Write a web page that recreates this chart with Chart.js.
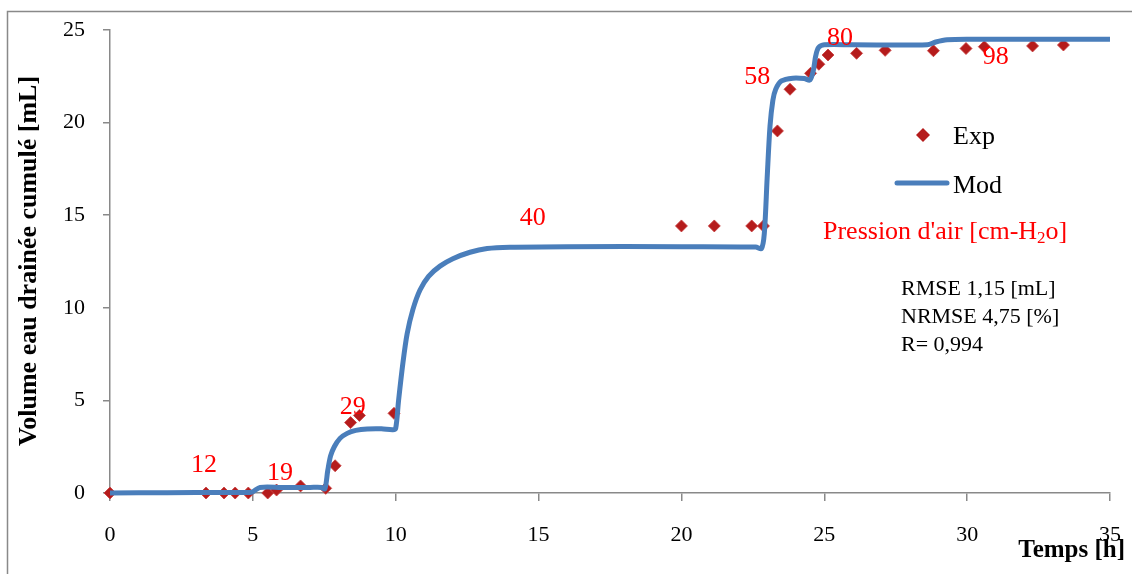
<!DOCTYPE html>
<html>
<head>
<meta charset="utf-8">
<script src="https://cdn.jsdelivr.net/npm/chart.js@4"></script>
<style>
  html, body { margin: 0; padding: 0; background: #fff; }
  #wrap { width: 1132px; height: 574px; position: relative; }
</style>
</head>
<body>
<div id="wrap"><canvas id="myChart" width="1132" height="574"></canvas></div>
<script>
// Temps [h] / volume [mL] des points mesurés
const expTime = [0, 3.36, 3.99, 4.38, 4.84, 5.52, 5.83, 6.67, 7.55, 7.88, 8.42, 8.73, 9.94,
    20.0, 21.15, 22.46, 22.87, 23.36, 23.8, 24.52, 24.81, 25.13, 26.13, 27.13, 28.82, 29.96, 30.6, 32.29, 33.37];
const expVolume = [0, 0, 0, 0, 0, 0, 0.16, 0.38, 0.25, 1.47, 3.8, 4.19, 4.3,
    14.42, 14.42, 14.42, 14.42, 19.55, 21.8, 22.66, 23.15, 23.65, 23.74, 23.9, 23.88, 24.0, 24.1, 24.14, 24.19];

// courbe du modèle
const modTime = [0, 2, 4, 4.95, 5.25, 6, 7, 7.4, 7.52, 7.62, 7.72, 7.85, 8.05, 8.3, 8.6, 9, 9.5, 9.9, 10,
    10.1, 10.25, 10.4, 10.6, 10.85, 11.15, 11.55, 12, 12.6, 13.2, 14, 16, 20, 22.6, 22.8, 22.9, 23.0,
    23.1, 23.2, 23.3, 23.5, 23.9, 24.3, 24.5, 24.62, 24.7, 24.8, 25, 26, 28.6, 28.9, 29.3, 30, 35];
const modVolume = [0, 0.02, 0.03, 0.04, 0.3, 0.3, 0.3, 0.3, 0.22, 1.2, 2.0, 2.5, 2.95, 3.22, 3.38, 3.46, 3.47, 3.42, 3.5,
    5, 7, 8.6, 9.9, 10.96, 11.7, 12.25, 12.65, 13.0, 13.2, 13.27, 13.3, 13.3, 13.28, 13.2, 14, 17,
    19.8, 21.2, 21.8, 22.25, 22.4, 22.38, 22.3, 22.85, 23.6, 24.05, 24.2, 24.2, 24.2, 24.35, 24.47, 24.5, 24.5];

// pressions d'air [cm-H2o] et leur emplacement (temps, volume)
const pressureLabels = ["12", "19", "29", "40", "58", "80", "98"];
const pressureAt = [[3.29, 1.51], [5.95, 1.08], [8.5, 4.64], [14.8, 14.85], [22.65, 22.46], [25.55, 24.57], [31.0, 23.54]];

const statsLines = ["RMSE 1,15 [mL]", "NRMSE 4,75 [%]", "R= 0,994"];

const serif = "'Liberation Serif', 'Times New Roman', serif";
const axisGrey = "#898989";
const modColor = "#4a7ebb";
const expColor = "#b51c1c";

const annotations = {
    id: "annotations",
    beforeDraw(chart) {
        const c = chart.ctx;
        c.save();
        c.fillStyle = "#fff";
        c.fillRect(0, 0, chart.width, chart.height);
        c.strokeStyle = axisGrey;
        c.lineWidth = 1.5;
        c.strokeRect(7.5, 11.5, 1140, 600);
        c.restore();
    },
    afterDraw(chart) {
        const c = chart.ctx;
        const xs = chart.scales.x;
        const ys = chart.scales.y;
        c.save();
        c.textAlign = "center";
        c.textBaseline = "middle";

        // étiquettes de pression
        c.fillStyle = "#ff0000";
        c.font = "26px " + serif;
        pressureLabels.forEach((t, i) => {
            c.fillText(t, xs.getPixelForValue(pressureAt[i][0]), ys.getPixelForValue(pressureAt[i][1]));
        });

        // titres des axes
        c.fillStyle = "#000";
        c.font = "bold 26px " + serif;
        c.save();
        c.translate(29, 261);
        c.rotate(-Math.PI / 2);
        c.fillText("Volume eau drainée cumulé [mL]", 0, 0);
        c.restore();
        c.textAlign = "right";
        c.font = "bold 25px " + serif;
        c.fillText("Temps [h]", 1125, 551);

        // légende
        c.textAlign = "left";
        c.font = "26px " + serif;
        c.fillStyle = expColor;
        c.beginPath();
        c.moveTo(923, 128);
        c.lineTo(930, 135);
        c.lineTo(923, 142);
        c.lineTo(916, 135);
        c.closePath();
        c.fill();
        c.fillStyle = "#000";
        c.fillText("Exp", 953, 137);
        c.strokeStyle = modColor;
        c.lineWidth = 5;
        c.lineCap = "round";
        c.beginPath();
        c.moveTo(897, 183);
        c.lineTo(947, 183);
        c.stroke();
        c.fillText("Mod", 953, 186);

        c.fillStyle = "#ff0000";
        const p1 = "Pression d'air [cm-H";
        c.fillText(p1, 823, 232);
        let w = c.measureText(p1).width;
        c.font = "17px " + serif;
        c.fillText("2", 823 + w, 239);
        const w2 = c.measureText("2").width;
        c.font = "26px " + serif;
        c.fillText("o]", 823 + w + w2, 232);

        c.fillStyle = "#000";
        c.font = "22px " + serif;
        statsLines.forEach((t, i) => c.fillText(t, 901, 289 + i * 28));
        c.restore();
    }
};

new Chart(document.getElementById("myChart"), {
    type: "scatter",
    data: {
        datasets: [
            {
                label: "Mod",
                data: modTime.map((t, i) => ({ x: t, y: modVolume[i] })),
                showLine: true,
                borderColor: modColor,
                borderWidth: 5,
                pointRadius: 0,
                tension: 0.3,
                clip: false,
                order: 0,
            },
            {
                label: "Exp",
                data: expTime.map((t, i) => ({ x: t, y: expVolume[i] })),
                pointStyle: "rectRot",
                pointRadius: 6,
                backgroundColor: expColor,
                borderColor: "rgba(200,60,60,0.8)",
                borderWidth: 1,
                clip: false,
                order: 1,
            },
        ],
    },
    options: {
        responsive: false,
        animation: false,
        layout: { padding: { left: 0, top: 30, right: 22, bottom: 0 } },
        plugins: { legend: { display: false }, tooltip: { enabled: false } },
        scales: {
            x: {
                type: "linear",
                min: 0,
                max: 35,
                ticks: { stepSize: 5, color: "#000", font: { family: serif, size: 22 }, padding: 21, maxRotation: 0 },
                grid: { drawOnChartArea: false, drawTicks: true, tickLength: 8, color: axisGrey, lineWidth: 1.5 },
                border: { color: axisGrey, width: 1.5 },
                afterFit: (s) => { s.height = 81; s.paddingLeft = 0; s.paddingRight = 0; },
            },
            y: {
                min: 0,
                max: 25,
                ticks: { stepSize: 5, color: "#000", font: { family: serif, size: 22 }, padding: 18 },
                grid: { drawOnChartArea: false, drawTicks: true, tickLength: 7, color: axisGrey, lineWidth: 1.5 },
                border: { color: axisGrey, width: 1.5 },
                afterFit: (s) => { s.width = 110; s.paddingTop = 0; s.paddingBottom = 0; },
            },
        },
    },
    plugins: [annotations],
});
</script>
</body>
</html>
